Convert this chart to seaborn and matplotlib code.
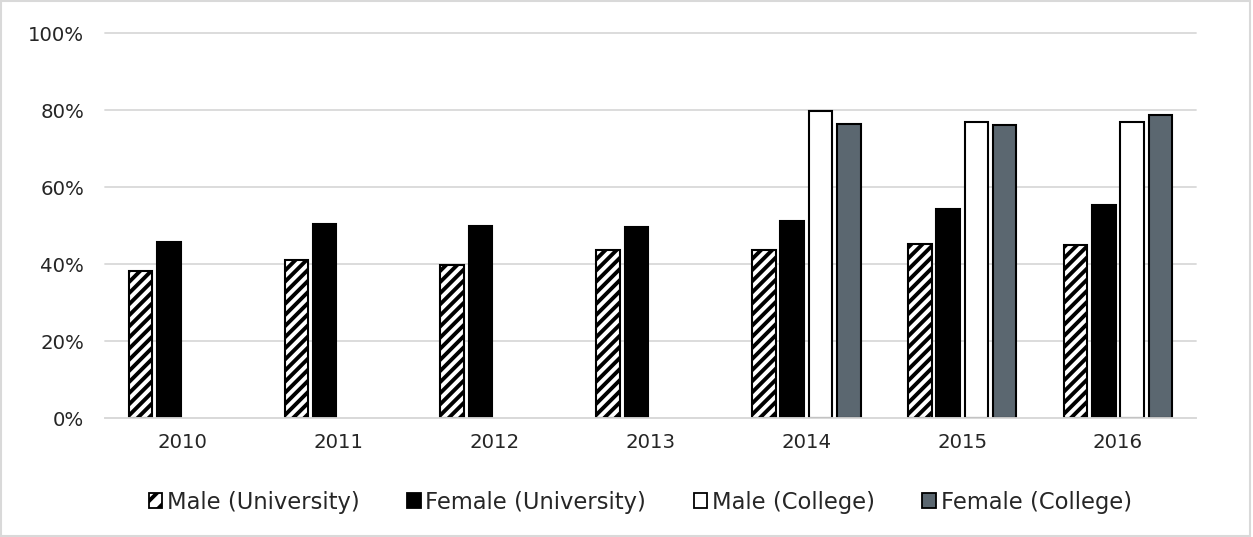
import numpy as np
import pandas as pd
import matplotlib
matplotlib.use("Agg")
import matplotlib.pyplot as plt
import matplotlib.patches as mpatches
import seaborn as sns

years = ["2010", "2011", "2012", "2013", "2014", "2015", "2016"]
series = ["Male (University)", "Female (University)", "Male (College)", "Female (College)"]
male_univ = [38.2, 41.0, 39.8, 43.6, 43.6, 45.1, 45.0]
female_univ = [45.7, 50.3, 49.9, 49.6, 51.1, 54.2, 55.2]
male_college = [None, None, None, None, 79.8, 76.8, 77.0]
female_college = [None, None, None, None, 76.4, 76.0, 78.8]
yticks = [0, 20, 40, 60, 80, 100]

rows = []
for s, vals in zip(series, [male_univ, female_univ, male_college, female_college]):
    for y, v in zip(years, vals):
        if v is not None:
            rows.append({"Year": y, "Series": s, "Value": v})
df = pd.DataFrame(rows)

sns.set_theme(style="white")
plt.rcParams['font.family'] = ['DejaVu Sans']
plt.rcParams['hatch.linewidth'] = 2.8
plt.rcParams['hatch.color'] = 'black'

fills = ["white", "black", "white", "#5b6770"]
hatches = ["///", "", "", ""]

fig = plt.figure(figsize=(12.53, 5.37), dpi=100)
ax = fig.add_axes([0.0838, 0.2216, 0.8707, 0.7169])

sns.barplot(data=df, x="Year", y="Value", hue="Series", order=years, hue_order=series,
            palette=dict(zip(series, fills)), width=0.726, gap=0.17,
            edgecolor="black", linewidth=1.5, legend=False, ax=ax, errorbar=None,
            saturation=1)

for cont, h, c in zip(ax.containers, hatches, fills):
    for p in cont.patches:
        p.set_hatch(h)
        p.set_facecolor(c)
        p.set_edgecolor("black")

ax.set_ylim(0, 100)
ax.set_xlim(-0.5, len(years) - 0.5)
ax.set_yticks(yticks)
ax.set_yticklabels([f"{t}%" for t in yticks])
ax.yaxis.grid(True, color="#d9d9d9", linewidth=1.3)
for gl in ax.get_ygridlines():
    gl.set_clip_on(False)
ax.set_axisbelow(True)
for sp in ["top", "right", "left"]:
    ax.spines[sp].set_visible(False)
ax.spines["bottom"].set_color("#d9d9d9")
ax.spines["bottom"].set_linewidth(1.3)
ax.set_xlabel("")
ax.set_ylabel("")
ax.tick_params(axis="both", length=0, labelsize=14.2, colors="#262626")
ax.tick_params(axis="x", pad=11)
ax.tick_params(axis="y", pad=15)

handles = [mpatches.Patch(facecolor=c, edgecolor="black", hatch=("//" if h else ""),
                          linewidth=1.3, label=s)
           for s, c, h in zip(series, fills, hatches)]
fig.legend(handles=handles, loc="center", bbox_to_anchor=(0.511, 0.065), ncol=4,
           frameon=False, fontsize=16.3, handlelength=0.6, handleheight=0.6,
           handletextpad=0.2, columnspacing=2.1, labelcolor="#262626")

border = mpatches.Rectangle((0.001, 0.001), 0.997, 0.997, transform=fig.transFigure,
                            fill=False, edgecolor="#d9d9d9", linewidth=1.5)
fig.patches.append(border)

fig.savefig("out.png", dpi=100)
